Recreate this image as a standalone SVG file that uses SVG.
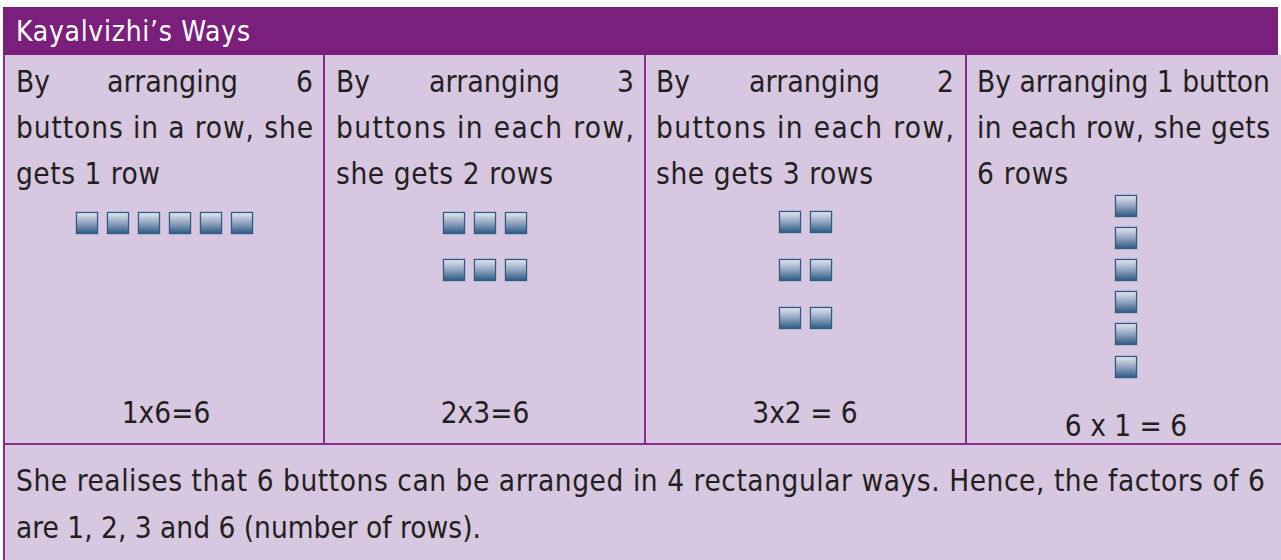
<svg xmlns="http://www.w3.org/2000/svg" xmlns:xlink="http://www.w3.org/1999/xlink" width="1281" height="560" viewBox="0 0 1281 560">
<defs>
<linearGradient id="btnGrad" x1="0" y1="0" x2="0" y2="1">
<stop offset="0" stop-color="#E3E8F0"/>
<stop offset="0.45" stop-color="#9AABC3"/>
<stop offset="1" stop-color="#2C5A85"/>
</linearGradient>
<symbol id="btn" viewBox="0 0 22 22" overflow="visible">
<rect x="-0.5" y="-0.5" width="23" height="23" fill="#9FA9C4" opacity="0.6"/>
<rect x="0.5" y="0.5" width="21" height="21" fill="url(#btnGrad)" stroke="#2F5C86" stroke-width="1.2"/>
</symbol>
<style>
.t{font-family:"DejaVu Sans Condensed","DejaVu Sans","Liberation Sans",sans-serif;font-stretch:condensed;font-size:29.5px;fill:#231F20}
.h{font-family:"DejaVu Sans Condensed","DejaVu Sans","Liberation Sans",sans-serif;font-stretch:condensed;font-size:28px;fill:#FFFFFF}
.ln{stroke:#8A2A8E;stroke-width:2;fill:none}
</style>
</defs>
<rect x="0" y="0" width="1281" height="560" fill="#FFFFFF"/>
<rect x="3" y="55" width="1278" height="505" fill="#D8C7E0"/>
<g id="header">
<rect x="3" y="7" width="1275" height="48" fill="#7B1F7C"/>
<text class="h" x="16" y="41" textLength="234" lengthAdjust="spacing">Kayalvizhi’s Ways</text>
</g>
<g id="connectors">
<line class="ln" x1="4" y1="55" x2="4" y2="560"/>
<line class="ln" x1="324" y1="55" x2="324" y2="444"/>
<line class="ln" x1="645" y1="55" x2="645" y2="444"/>
<line class="ln" x1="966" y1="55" x2="966" y2="444"/>
<line class="ln" x1="3" y1="444" x2="1281" y2="444"/>
</g>
<g id="col1">
<text class="t" x="16" y="92">By</text>
<text class="t" x="107" y="92" textLength="131" lengthAdjust="spacingAndGlyphs">arranging</text>
<text class="t" x="313" y="92" text-anchor="end">6</text>
<text class="t" x="16" y="138" textLength="297" lengthAdjust="spacing">buttons in a row, she</text>
<text class="t" x="16" y="184" textLength="144" lengthAdjust="spacing">gets 1 row</text>
<use xlink:href="#btn" x="76" y="212" width="22" height="22"/>
<use xlink:href="#btn" x="107" y="212" width="22" height="22"/>
<use xlink:href="#btn" x="138" y="212" width="22" height="22"/>
<use xlink:href="#btn" x="169" y="212" width="22" height="22"/>
<use xlink:href="#btn" x="200" y="212" width="22" height="22"/>
<use xlink:href="#btn" x="231" y="212" width="22" height="22"/>
<text class="t" x="166" y="423" text-anchor="middle">1x6=6</text>
</g>
<g id="col2">
<text class="t" x="336" y="92">By</text>
<text class="t" x="429" y="92" textLength="131" lengthAdjust="spacingAndGlyphs">arranging</text>
<text class="t" x="634" y="92" text-anchor="end">3</text>
<text class="t" x="336" y="138" textLength="298" lengthAdjust="spacing">buttons in each row,</text>
<text class="t" x="336" y="184" textLength="217" lengthAdjust="spacing">she gets 2 rows</text>
<use xlink:href="#btn" x="443" y="212" width="22" height="22"/>
<use xlink:href="#btn" x="474" y="212" width="22" height="22"/>
<use xlink:href="#btn" x="505" y="212" width="22" height="22"/>
<use xlink:href="#btn" x="443" y="259" width="22" height="22"/>
<use xlink:href="#btn" x="474" y="259" width="22" height="22"/>
<use xlink:href="#btn" x="505" y="259" width="22" height="22"/>
<text class="t" x="485" y="423" text-anchor="middle">2x3=6</text>
</g>
<g id="col3">
<text class="t" x="656" y="92">By</text>
<text class="t" x="749" y="92" textLength="131" lengthAdjust="spacingAndGlyphs">arranging</text>
<text class="t" x="954" y="92" text-anchor="end">2</text>
<text class="t" x="656" y="138" textLength="298" lengthAdjust="spacing">buttons in each row,</text>
<text class="t" x="656" y="184" textLength="217" lengthAdjust="spacing">she gets 3 rows</text>
<use xlink:href="#btn" x="779" y="211" width="22" height="22"/>
<use xlink:href="#btn" x="810" y="211" width="22" height="22"/>
<use xlink:href="#btn" x="779" y="259" width="22" height="22"/>
<use xlink:href="#btn" x="810" y="259" width="22" height="22"/>
<use xlink:href="#btn" x="779" y="307" width="22" height="22"/>
<use xlink:href="#btn" x="810" y="307" width="22" height="22"/>
<text class="t" x="805" y="423" text-anchor="middle">3x2 = 6</text>
</g>
<g id="col4">
<text class="t" x="977" y="92" textLength="293" lengthAdjust="spacingAndGlyphs">By arranging 1 button</text>
<text class="t" x="977" y="138" textLength="293" lengthAdjust="spacing">in each row, she gets</text>
<text class="t" x="977" y="184" textLength="91" lengthAdjust="spacing">6 rows</text>
<use xlink:href="#btn" x="1115" y="195" width="22" height="22"/>
<use xlink:href="#btn" x="1115" y="227" width="22" height="22"/>
<use xlink:href="#btn" x="1115" y="259" width="22" height="22"/>
<use xlink:href="#btn" x="1115" y="291" width="22" height="22"/>
<use xlink:href="#btn" x="1115" y="323" width="22" height="22"/>
<use xlink:href="#btn" x="1115" y="356" width="22" height="22"/>
<text class="t" x="1126" y="436" text-anchor="middle">6 x 1 = 6</text>
</g>
<g id="summary">
<text class="t" x="16" y="491" textLength="1249" lengthAdjust="spacing">She realises that 6 buttons can be arranged in 4 rectangular ways. Hence, the factors of 6</text>
<text class="t" x="16" y="538">are 1, 2, 3 and 6 (number of rows).</text>
</g>
</svg>
